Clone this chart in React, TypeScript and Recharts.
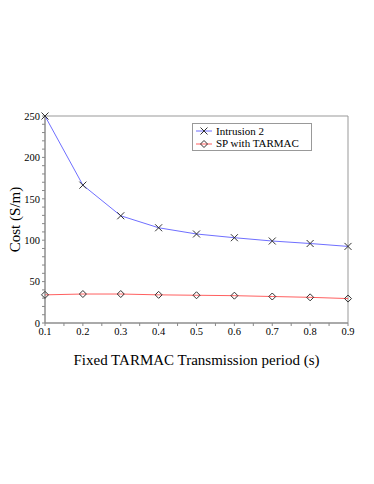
import {
  LineChart,
  Line,
  XAxis,
  YAxis,
  ReferenceArea,
} from 'recharts';

const periods = [0.1, 0.2, 0.3, 0.4, 0.5, 0.6, 0.7, 0.8, 0.9];
const intrusion2 = [250, 166.5, 129.5, 115, 107.5, 103, 99, 96, 92.5];
const spWithTarmac = [34, 35, 35, 34, 33.5, 33, 32, 31, 29.5];

const xTicks = [0.1, 0.15, 0.2, 0.25, 0.3, 0.35, 0.4, 0.45, 0.5, 0.55, 0.6, 0.65, 0.7, 0.75, 0.8, 0.85, 0.9];
const xLabels = ['0.1', '0.2', '0.3', '0.4', '0.5', '0.6', '0.7', '0.8', '0.9'];
const yTicks = [0, 10, 20, 30, 40, 50, 60, 70, 80, 90, 100, 110, 120, 130, 140, 150, 160, 170, 180, 190, 200, 210, 220, 230, 240, 250];

const data = periods.map((p, i) => ({
  period: p,
  intrusion: intrusion2[i],
  sp: spWithTarmac[i],
}));

const FONT = '"Liberation Serif", "DejaVu Serif", serif';
const MARKER = '#333';
const BLUE = '#6f6fff';
const RED = '#ff6060';

function Cross(props: any) {
  const { cx, cy } = props;
  if (cx == null || cy == null) return null;
  const s = 3.5;
  return (
    <g stroke={MARKER} strokeWidth={1}>
      <line x1={cx - s} y1={cy - s} x2={cx + s} y2={cy + s} />
      <line x1={cx - s} y1={cy + s} x2={cx + s} y2={cy - s} />
    </g>
  );
}

function Diamond(props: any) {
  const { cx, cy } = props;
  if (cx == null || cy == null) return null;
  const s = 3.5;
  return (
    <path
      d={`M${cx},${cy - s} L${cx + s},${cy} L${cx},${cy + s} L${cx - s},${cy} Z`}
      fill="none"
      stroke={MARKER}
      strokeWidth={1}
    />
  );
}

// legend drawn as an overlay so it doesn't push the plot area around
function LegendBox() {
  const row = (label: string, color: string, marker: 'x' | 'd') => (
    <div style={{ display: 'flex', alignItems: 'center', height: 12.5 }}>
      <svg width={18} height={12} style={{ marginRight: 3 }}>
        <line x1={1} y1={6} x2={17} y2={6} stroke={color} strokeWidth={1} />
        {marker === 'x' ? <Cross cx={9} cy={6} /> : <Diamond cx={9} cy={6} />}
      </svg>
      <span>{label}</span>
    </div>
  );
  return (
    <div
      style={{
        position: 'absolute',
        left: 192,
        top: 123,
        border: '1px solid #999',
        width: 116,
        padding: '1px 0 0 2px',
        fontFamily: FONT,
        fontSize: 11,
        lineHeight: '11px',
        color: '#000',
        background: '#fff',
      }}
    >
      {row('Intrusion 2', BLUE, 'x')}
      {row('SP with TARMAC', RED, 'd')}
    </div>
  );
}

export default function App() {
  return (
    <div style={{ position: 'absolute', left: 0, top: 0, width: 374, height: 484, background: '#fff', fontFamily: FONT }}>
      <style>{`.recharts-wrapper text { font-family: ${FONT} !important; }`}</style>
      <LineChart
        width={374}
        height={484}
        data={data}
        margin={{ top: 116, right: 26, left: 0, bottom: 116 }}
        style={{ fontFamily: FONT }}
      >
        <ReferenceArea x1={0.1} x2={0.9} y1={0} y2={250} fill="none" stroke="#999" strokeWidth={1} />
        <XAxis
          dataKey="period"
          type="number"
          domain={[0.1, 0.9]}
          ticks={xTicks}
          interval={0}
          tickFormatter={(v: number) => {
            const s = v.toFixed(1);
            return Math.abs(v * 10 - Math.round(v * 10)) < 1e-6 && xLabels.includes(s) ? s : '';
          }}
          stroke="#888"
          tickSize={3}
          height={45}
          tick={{ fill: '#000', fontSize: 10.5 }}
          label={{
            value: 'Fixed TARMAC Transmission period (s)',
            position: 'insideBottom',
            offset: 3,
            fill: '#000',
            fontSize: 15,
          }}
        />
        <YAxis
          type="number"
          domain={[0, 250]}
          ticks={yTicks}
          interval={0}
          tickFormatter={(v: number) => (v % 50 === 0 ? String(v) : '')}
          stroke="#888"
          tickSize={3}
          width={45}
          tick={{ fill: '#000', fontSize: 10.5 }}
          label={{
            value: 'Cost (S/m)',
            angle: -90,
            position: 'insideLeft',
            offset: 15,
            fill: '#000',
            fontSize: 15,
            style: { textAnchor: 'middle' },
          }}
        />
        <Line
          dataKey="intrusion"
          name="Intrusion 2"
          type="linear"
          stroke={BLUE}
          strokeWidth={1}
          dot={<Cross />}
          activeDot={false}
          isAnimationActive={false}
        />
        <Line
          dataKey="sp"
          name="SP with TARMAC"
          type="linear"
          stroke={RED}
          strokeWidth={1}
          dot={<Diamond />}
          activeDot={false}
          isAnimationActive={false}
        />
      </LineChart>
      <LegendBox />
    </div>
  );
}
